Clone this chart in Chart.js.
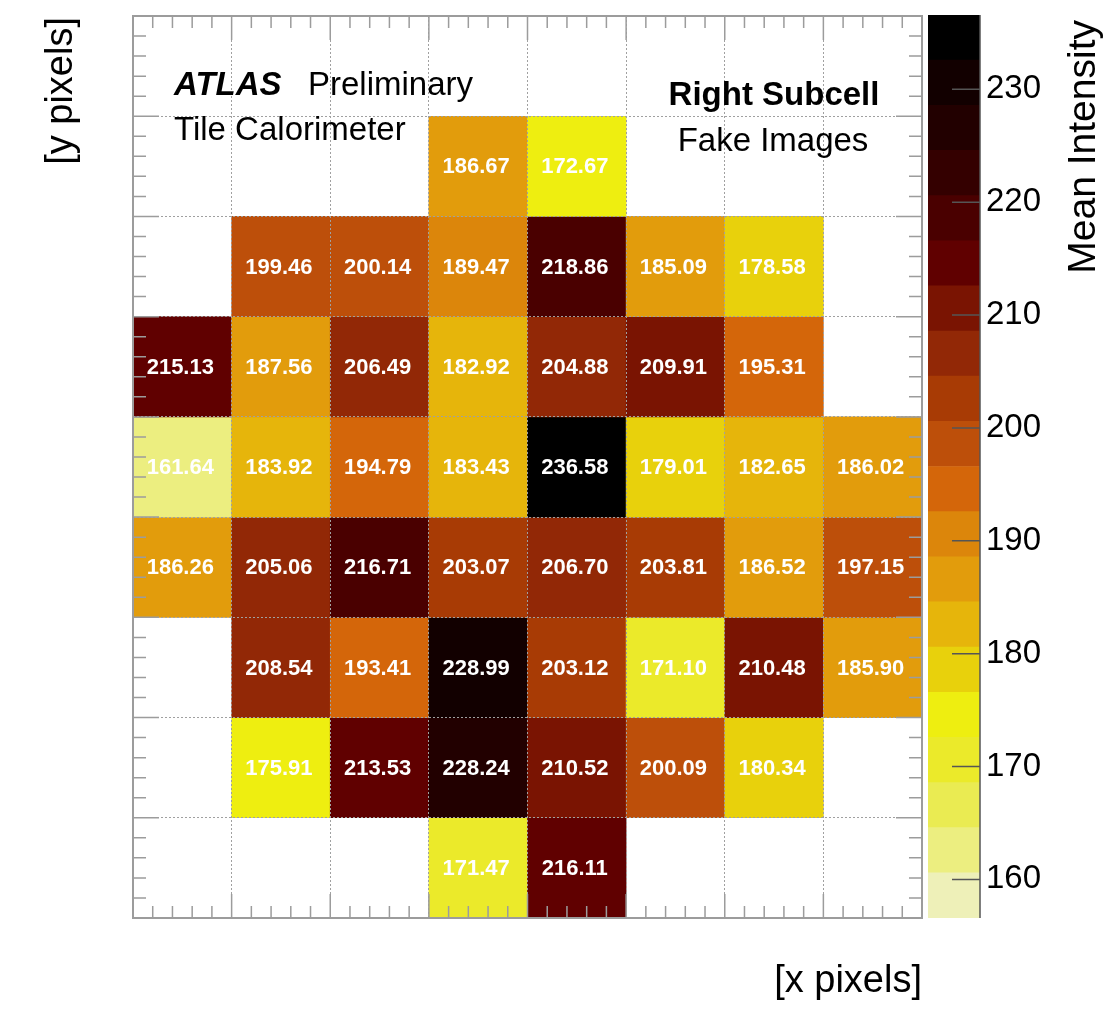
<!DOCTYPE html>
<html>
<head>
<meta charset="utf-8">
<script src="https://cdn.jsdelivr.net/npm/chart.js@4.4.1/dist/chart.umd.min.js"></script>
<style>
    body { margin: 0; background: #fff; }
    #wrap { position: relative; width: 1107px; height: 1010px; }
    #heatmap { position: absolute; left: 0; top: 0; }
    #colorbar { position: absolute; left: 900px; top: 0; }
</style>
</head>
<body>
<div id="wrap">
    <canvas id="heatmap" width="1107" height="1010"></canvas>
    <canvas id="colorbar" width="207" height="1010"></canvas>
</div>
<script>
// mean intensity per pixel, one array per y pixel row (null = empty bin)
const row8 = [null, null, null, null, null, null, null, null];
const row7 = [null, null, null, 186.67, 172.67, null, null, null];
const row6 = [null, 199.46, 200.14, 189.47, 218.86, 185.09, 178.58, null];
const row5 = [215.13, 187.56, 206.49, 182.92, 204.88, 209.91, 195.31, null];
const row4 = [161.64, 183.92, 194.79, 183.43, 236.58, 179.01, 182.65, 186.02];
const row3 = [186.26, 205.06, 216.71, 203.07, 206.70, 203.81, 186.52, 197.15];
const row2 = [null, 208.54, 193.41, 228.99, 203.12, 171.10, 210.48, 185.90];
const row1 = [null, 175.91, 213.53, 228.24, 210.52, 200.09, 180.34, null];
const row0 = [null, null, null, 171.47, 216.11, null, null, null];
const rows = [row0, row1, row2, row3, row4, row5, row6, row7, row8];

const nX = 8;
const nY = 9;

// colour scale
const zMin = 156.58;
const zMax = 236.58;
const zTicks = [160, 170, 180, 190, 200, 210, 220, 230];
const palette = [
    '#eef0b8', '#ecee80', '#eaeb52', '#ebea2a', '#eeee10',
    '#e8d10c', '#e6b50b', '#e29c0c', '#dc860b', '#d4660a',
    '#bd4f0a', '#a83b05', '#922806', '#7a1402', '#600000',
    '#4a0000', '#340000', '#220000', '#120000', '#000000'
];

const FONT = '"Liberation Sans", Arial, Helvetica, sans-serif';
const FRAME = '#9c9c9c';

function colorFor(v) {
    let k = Math.floor((v - zMin) / (zMax - zMin) * palette.length);
    if (k < 0) k = 0;
    if (k > palette.length - 1) k = palette.length - 1;
    return palette[k];
}

const cells = [];
rows.forEach((row, iy) => {
    row.forEach((v, ix) => {
        if (v !== null) cells.push({ x: ix + 0.5, y: [iy, iy + 1], v: v });
    });
});

// ROOT-like frame with inside ticks on all four sides
const frameTicks = {
    id: 'frameTicks',
    afterDraw(chart) {
        const { ctx, chartArea: a, scales: { x, y } } = chart;
        ctx.save();
        ctx.strokeStyle = FRAME;
        ctx.lineWidth = 1.5;
        ctx.beginPath();
        for (let k = 0; k <= nX * 5; k++) {
            const px = x.getPixelForValue(k / 5);
            const len = k % 5 === 0 ? 24 : 12;
            ctx.moveTo(px, a.bottom); ctx.lineTo(px, a.bottom - len);
            ctx.moveTo(px, a.top); ctx.lineTo(px, a.top + len);
        }
        for (let k = 0; k <= nY * 5; k++) {
            const py = y.getPixelForValue(k / 5);
            const len = k % 5 === 0 ? 26 : 13;
            ctx.moveTo(a.left, py); ctx.lineTo(a.left + len, py);
            ctx.moveTo(a.right, py); ctx.lineTo(a.right - len, py);
        }
        ctx.stroke();
        ctx.lineWidth = 2;
        ctx.strokeRect(a.left, a.top, a.right - a.left, a.bottom - a.top);
        ctx.restore();
    }
};

// bin contents written on each cell
const cellText = {
    id: 'cellText',
    afterDatasetsDraw(chart) {
        const { ctx } = chart;
        const meta = chart.getDatasetMeta(0);
        ctx.save();
        ctx.fillStyle = '#fff';
        ctx.font = 'bold 22px ' + FONT;
        ctx.textAlign = 'center';
        ctx.textBaseline = 'middle';
        meta.data.forEach((bar, i) => {
            const cy = (bar.y + bar.base) / 2;
            ctx.fillText(cells[i].v.toFixed(2), bar.x - 2, cy + 1);
        });
        ctx.restore();
    }
};

// labels and axis titles
const labels = {
    id: 'labels',
    afterDraw(chart) {
        const { ctx } = chart;
        ctx.save();
        ctx.fillStyle = '#000';
        ctx.textBaseline = 'alphabetic';
        ctx.textAlign = 'left';
        ctx.font = 'italic bold 33px ' + FONT;
        ctx.fillText('ATLAS', 174, 95);
        ctx.font = '33px ' + FONT;
        ctx.fillText('Preliminary', 308, 95);
        ctx.fillText('Tile Calorimeter', 174, 140);
        ctx.textAlign = 'center';
        ctx.font = 'bold 33px ' + FONT;
        ctx.fillText('Right Subcell', 774, 105);
        ctx.font = '33px ' + FONT;
        ctx.fillText('Fake Images', 773, 151);

        ctx.font = '38px ' + FONT;
        ctx.textAlign = 'right';
        ctx.fillText('[x pixels]', 922, 992);

        ctx.save();
        ctx.translate(72, 17);
        ctx.rotate(-Math.PI / 2);
        ctx.fillText('[y pixels]', 0, 0);
        ctx.restore();

        ctx.font = '39px ' + FONT;
        ctx.save();
        ctx.translate(1095, 20);
        ctx.rotate(-Math.PI / 2);
        ctx.fillText('Mean Intensity', 0, 0);
        ctx.restore();
        ctx.restore();
    }
};

new Chart(document.getElementById('heatmap'), {
    type: 'bar',
    data: {
        datasets: [{
            data: cells,
            backgroundColor: cells.map(c => colorFor(c.v)),
            borderWidth: 0,
            barPercentage: 1,
            categoryPercentage: 1
        }]
    },
    options: {
        responsive: false,
        animation: false,
        devicePixelRatio: 1,
        layout: { padding: { left: 133, top: 16, right: 185, bottom: 92 } },
        plugins: { legend: { display: false }, tooltip: { enabled: false } },
        scales: {
            x: {
                type: 'linear', min: 0, max: nX, offset: false,
                ticks: { display: false, stepSize: 1 },
                grid: { offset: false, drawTicks: false, color: '#a0a0a0', lineWidth: 1, z: 1 },
                border: { display: false, dash: [2, 2] },
                afterFit: s => { s.height = 0; }
            },
            y: {
                type: 'linear', min: 0, max: nY,
                ticks: { display: false, stepSize: 1 },
                grid: { drawTicks: false, color: '#a0a0a0', lineWidth: 1, z: 1 },
                border: { display: false, dash: [2, 2] },
                afterFit: s => { s.width = 0; }
            }
        }
    },
    plugins: [cellText, frameTicks, labels]
});

// colour bar
const bandEdges = palette.map((c, k) => zMin + (zMax - zMin) * k / palette.length);

const axisTicks = {
    id: 'axisTicks',
    afterDraw(chart) {
        const { ctx, chartArea: a, scales: { y } } = chart;
        ctx.save();
        ctx.strokeStyle = '#555';
        ctx.lineWidth = 1.5;
        ctx.beginPath();
        ctx.moveTo(a.right, a.top); ctx.lineTo(a.right, a.bottom);
        zTicks.forEach(v => {
            const py = y.getPixelForValue(v);
            ctx.moveTo(a.right, py); ctx.lineTo(a.right - 28, py);
        });
        ctx.stroke();
        ctx.restore();
    }
};

new Chart(document.getElementById('colorbar'), {
    type: 'bar',
    data: {
        labels: ['z'],
        datasets: bandEdges.map((lo, k) => ({
            data: [[lo, lo + (zMax - zMin) / palette.length]],
            backgroundColor: palette[k],
            borderWidth: 0,
            grouped: false,
            barPercentage: 1,
            categoryPercentage: 1
        }))
    },
    options: {
        responsive: false,
        animation: false,
        devicePixelRatio: 1,
        layout: { padding: { left: 28, top: 15, right: 0, bottom: 92 } },
        plugins: { legend: { display: false }, tooltip: { enabled: false } },
        scales: {
            x: { display: false },
            y: {
                position: 'right', min: zMin, max: zMax,
                afterBuildTicks: s => { s.ticks = zTicks.map(v => ({ value: v })); },
                ticks: { color: '#000', padding: 6, font: { family: FONT, size: 33 } },
                grid: { display: false, drawTicks: false },
                border: { display: false },
                afterFit: s => {
                    s.width = 127;
                    s.paddingTop = 0;
                    s.paddingBottom = 0;
                }
            }
        }
    },
    plugins: [axisTicks]
});
</script>
</body>
</html>
